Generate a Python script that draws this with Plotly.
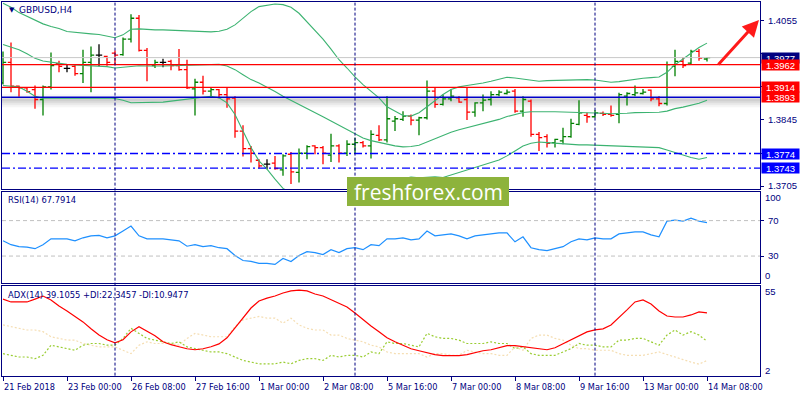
import plotly.graph_objects as go

# ---------------- data (GBPUSD H4, 21 Feb 16:00 .. 14 Mar 08:00) ----------------
opens = [1.39234, 1.39669, 1.39164, 1.39129, 1.39094, 1.38883, 1.39150, 1.39641, 1.39543, 1.39585,
         1.39431, 1.39669, 1.39824, 1.39796, 1.39866, 1.39831, 1.40161, 1.40603, 1.39922, 1.39599,
         1.39669, 1.39690, 1.39599, 1.39515, 1.39108, 1.39248, 1.39059, 1.39094, 1.38988, 1.38911,
         1.38216, 1.37844, 1.37598, 1.37514, 1.37535, 1.37395, 1.37725, 1.37339, 1.37746, 1.37901,
         1.37865, 1.37704, 1.37901, 1.37746, 1.37936, 1.37971, 1.37901, 1.38125, 1.38027, 1.38427,
         1.38462, 1.38532, 1.38448, 1.38497, 1.39059, 1.38778, 1.38897, 1.38918, 1.38883, 1.38616,
         1.38813, 1.38883, 1.38988, 1.39010, 1.39059, 1.38637, 1.38848, 1.38146, 1.38097, 1.37971,
         1.38006, 1.38097, 1.38357, 1.38546, 1.38518, 1.38588, 1.38567, 1.38567, 1.38953, 1.38988,
         1.39010, 1.39080, 1.38897, 1.38799, 1.39585, 1.39690, 1.39655, 1.39901, 1.39740]
highs = [1.39901, 1.40090, 1.39178, 1.39150, 1.39178, 1.39178, 1.39880, 1.39704, 1.39620, 1.39620,
         1.39936, 1.40006, 1.40055, 1.39810, 1.39922, 1.40196, 1.40687, 1.40673, 1.39971, 1.39725,
         1.39747, 1.39725, 1.39950, 1.39725, 1.39325, 1.39388, 1.39129, 1.39108, 1.39150, 1.38953,
         1.38336, 1.37901, 1.37619, 1.37619, 1.37690, 1.37725, 1.37774, 1.37844, 1.37915, 1.37915,
         1.37901, 1.38160, 1.37936, 1.38020, 1.38076, 1.38006, 1.38230, 1.38336, 1.38953, 1.38532,
         1.38637, 1.38567, 1.38518, 1.39283, 1.39150, 1.38988, 1.39094, 1.38953, 1.39150, 1.38827,
         1.38988, 1.39059, 1.39080, 1.39094, 1.39108, 1.38953, 1.38883, 1.38195, 1.38146, 1.38055,
         1.38286, 1.38476, 1.38869, 1.38602, 1.38659, 1.38630, 1.38757, 1.39024, 1.39038, 1.39178,
         1.39108, 1.39094, 1.38953, 1.39690, 1.39936, 1.39782, 1.39936, 1.39950, 1.39782]
lows = [1.39199, 1.39038, 1.38939, 1.39024, 1.38687, 1.38546, 1.39094, 1.39459, 1.39459, 1.39388,
        1.39234, 1.39038, 1.39585, 1.39599, 1.39613, 1.39810, 1.40090, 1.39901, 1.39269, 1.39550,
        1.39564, 1.39501, 1.39494, 1.39108, 1.38546, 1.38988, 1.38939, 1.38911, 1.38708, 1.38076,
        1.37676, 1.37549, 1.37423, 1.37409, 1.37395, 1.37269, 1.37094, 1.37129, 1.37619, 1.37725,
        1.37514, 1.37563, 1.37549, 1.37690, 1.37746, 1.37865, 1.37633, 1.38006, 1.37971, 1.38216,
        1.38427, 1.38336, 1.38125, 1.38462, 1.38708, 1.38757, 1.38848, 1.38813, 1.38448, 1.38518,
        1.38637, 1.38757, 1.38953, 1.38988, 1.38602, 1.38518, 1.38097, 1.37795, 1.37865, 1.37865,
        1.37936, 1.38076, 1.38336, 1.38392, 1.38497, 1.38532, 1.38518, 1.38378, 1.38757, 1.38953,
        1.38988, 1.38848, 1.38743, 1.38757, 1.39374, 1.39550, 1.39620, 1.39704, 1.39690]
closes = [1.39669, 1.39164, 1.39129, 1.39052, 1.38883, 1.39150, 1.39599, 1.39585, 1.39543, 1.39431,
          1.39669, 1.39824, 1.39824, 1.39669, 1.39824, 1.40161, 1.40603, 1.39922, 1.39620, 1.39669,
          1.39669, 1.39599, 1.39515, 1.39129, 1.39248, 1.39059, 1.39094, 1.38988, 1.38897, 1.38216,
          1.37844, 1.37746, 1.37479, 1.37514, 1.37423, 1.37690, 1.37353, 1.37746, 1.37887, 1.37865,
          1.37746, 1.37901, 1.37746, 1.37936, 1.37971, 1.37901, 1.38146, 1.38027, 1.38476, 1.38476,
          1.38532, 1.38448, 1.38497, 1.39059, 1.38778, 1.38897, 1.38953, 1.38827, 1.38616, 1.38813,
          1.38869, 1.38988, 1.39038, 1.39038, 1.38637, 1.38883, 1.38146, 1.38076, 1.37957, 1.38041,
          1.38097, 1.38378, 1.38602, 1.38518, 1.38602, 1.38567, 1.38546, 1.38988, 1.39010, 1.39024,
          1.39038, 1.38897, 1.38799, 1.39620, 1.39690, 1.39599, 1.39901, 1.39761, 1.39770]

bb_upper = [1.40919, 1.40835, 1.40722, 1.40638, 1.40554, 1.40484, 1.40427, 1.40385, 1.40322, 1.40301,
            1.40287, 1.40273, 1.40259, 1.40231, 1.40189, 1.40252, 1.40371, 1.40378, 1.40364, 1.40357,
            1.40357, 1.40350, 1.40343, 1.40336, 1.40329, 1.40315, 1.40315, 1.40329, 1.40371, 1.40462,
            1.40603, 1.40743, 1.40849, 1.40884, 1.40905, 1.40891, 1.40835, 1.40708, 1.40533, 1.40343,
            1.40161, 1.39950, 1.39725, 1.39550, 1.39360, 1.39199, 1.39059, 1.38918, 1.38729, 1.38637,
            1.38546, 1.38532, 1.38602, 1.38729, 1.38862, 1.38988, 1.39094, 1.39150, 1.39178, 1.39199,
            1.39234, 1.39269, 1.39318, 1.39353, 1.39339, 1.39318, 1.39290, 1.39269, 1.39283, 1.39290,
            1.39297, 1.39304, 1.39304, 1.39304, 1.39297, 1.39269, 1.39248, 1.39262, 1.39290, 1.39318,
            1.39332, 1.39346, 1.39360, 1.39459, 1.39620, 1.39740, 1.39866, 1.39985, 1.40076]
bb_mid = [1.40048, 1.39999, 1.39936, 1.39852, 1.39754, 1.39697, 1.39669, 1.39655, 1.39627, 1.39613,
          1.39606, 1.39599, 1.39592, 1.39578, 1.39550, 1.39564, 1.39592, 1.39599, 1.39592, 1.39585,
          1.39592, 1.39599, 1.39606, 1.39613, 1.39620, 1.39627, 1.39634, 1.39627, 1.39592, 1.39515,
          1.39409, 1.39304, 1.39234, 1.39150, 1.39052, 1.38953, 1.38869, 1.38778, 1.38686, 1.38602,
          1.38518, 1.38427, 1.38336, 1.38237, 1.38146, 1.38069, 1.38013, 1.37971, 1.37929, 1.37901,
          1.37880, 1.37887, 1.37915, 1.37985, 1.38055, 1.38111, 1.38188, 1.38244, 1.38286, 1.38321,
          1.38364, 1.38409, 1.38462, 1.38522, 1.38567, 1.38609, 1.38623, 1.38627, 1.38627, 1.38623,
          1.38620, 1.38616, 1.38613, 1.38613, 1.38606, 1.38592, 1.38581, 1.38581, 1.38592, 1.38606,
          1.38609, 1.38613, 1.38613, 1.38637, 1.38690, 1.38722, 1.38760, 1.38802, 1.38866]
bb_lower = [1.39178, 1.39164, 1.39150, 1.39059, 1.38953, 1.38911, 1.38911, 1.38918, 1.38925, 1.38925,
            1.38925, 1.38925, 1.38925, 1.38918, 1.38904, 1.38869, 1.38813, 1.38813, 1.38813, 1.38813,
            1.38827, 1.38848, 1.38869, 1.38883, 1.38911, 1.38932, 1.38953, 1.38918, 1.38813, 1.38567,
            1.38216, 1.37865, 1.37584, 1.37409, 1.37198, 1.37002, 1.36903, 1.36847, 1.36840, 1.36861,
            1.36875, 1.36903, 1.36945, 1.36924, 1.36931, 1.36938, 1.36966, 1.37023, 1.37128, 1.37163,
            1.37212, 1.37240, 1.37226, 1.37240, 1.37247, 1.37233, 1.37283, 1.37339, 1.37395, 1.37444,
            1.37493, 1.37549, 1.37605, 1.37690, 1.37795, 1.37901, 1.37957, 1.37985, 1.37971, 1.37957,
            1.37943, 1.37929, 1.37922, 1.37922, 1.37915, 1.37915, 1.37915, 1.37901, 1.37894, 1.37894,
            1.37887, 1.37880, 1.37865, 1.37816, 1.37760, 1.37704, 1.37655, 1.37619, 1.37655]

rsi = [47.2, 42.8, 40.6, 40.0, 38.3, 42.8, 49.4, 49.4, 49.4, 47.2,
       50.6, 52.8, 53.3, 50.6, 52.8, 58.3, 63.9, 52.8, 49.4, 49.4,
       49.4, 48.3, 47.2, 41.1, 42.8, 40.6, 41.7, 39.4, 38.3, 30.6,
       25.0, 23.9, 21.7, 21.7, 20.6, 27.2, 23.9, 30.6, 35.0, 33.9,
       31.7, 37.2, 33.9, 38.3, 39.4, 37.2, 42.8, 41.7, 49.4, 49.4,
       50.6, 48.3, 49.4, 58.3, 52.8, 53.9, 55.0, 52.8, 49.4, 52.8,
       53.9, 55.0, 56.1, 56.1, 46.1, 51.7, 39.4, 37.2, 36.1, 38.3,
       40.6, 46.1, 49.4, 48.3, 50.6, 49.4, 49.4, 55.0, 56.1, 57.2,
       57.2, 53.9, 51.7, 69.4, 70.6, 69.4, 72.8, 69.4, 67.7914]

adx = [47.3, 45.6, 45.6, 45.6, 47.3, 49.1, 46.8, 43.2, 40.3, 37.3,
       33.8, 29.7, 26.1, 23.2, 21.4, 23.2, 27.9, 30.9, 28.5, 25.6,
       22.0, 20.3, 19.1, 17.9, 17.3, 17.9, 19.1, 20.8, 24.4, 30.3,
       36.2, 42.0, 46.2, 47.9, 49.1, 50.9, 52.1, 52.6, 52.1, 50.3,
       49.1, 46.8, 45.0, 42.6, 39.1, 35.0, 31.4, 27.9, 24.4, 22.0,
       19.7, 17.9, 16.7, 15.5, 14.4, 13.8, 13.8, 13.8, 14.4, 15.5,
       16.7, 17.3, 18.5, 19.7, 19.7, 19.1, 18.5, 17.9, 17.3, 18.5,
       20.8, 23.2, 25.6, 27.9, 29.1, 29.7, 32.0, 36.2, 40.9, 45.6,
       46.8, 44.4, 40.3, 37.3, 36.7, 36.7, 37.9, 39.7, 39.1055]
plus_di = [15, 14, 13, 13, 12, 14, 20, 19, 18, 17,
           20, 21, 21, 20, 20, 24, 30, 27, 24, 23,
           22, 21, 22, 19, 18, 17, 16, 16, 15, 13,
           11, 10, 9, 9, 9, 10, 9, 11, 12, 12,
           11, 14, 13, 14, 14, 13, 16, 15, 22, 21,
           21, 20, 19, 27, 25, 24, 24, 23, 21, 21,
           21, 22, 21, 21, 18, 19, 15, 14, 14, 14,
           16, 18, 21, 20, 20, 19, 19, 23, 23, 24,
           24, 22, 20, 26, 29, 26, 28, 26, 22.3457]
minus_di = [32, 31, 30, 29, 29, 28, 25, 24, 23, 23,
            21, 20, 19, 19, 19, 17, 15, 20, 22, 21,
            21, 21, 20, 24, 27, 26, 25, 25, 25, 31,
            35, 36, 37, 36, 36, 33, 36, 32, 30, 29,
            29, 26, 26, 24, 23, 22, 20, 19, 16, 15,
            15, 15, 15, 13, 15, 15, 14, 14, 17, 16,
            15, 15, 14, 14, 19, 17, 24, 26, 26, 24,
            23, 20, 18, 18, 17, 17, 17, 15, 14, 14,
            14, 15, 16, 14.5, 12.8, 11.5, 10.0, 8.8, 10.9477]

tick_bars = [0, 8, 16, 24, 32, 40, 48, 56, 64, 72, 80, 88]
tick_labels = ["21 Feb 2018", "23 Feb 00:00", "26 Feb 08:00", "27 Feb 16:00", "1 Mar 00:00",
               "2 Mar 08:00", "5 Mar 16:00", "7 Mar 00:00", "8 Mar 08:00", "9 Mar 16:00",
               "13 Mar 00:00", "14 Mar 08:00"]
separator_bars = [14, 44, 74]
price_ticks = [1.4055, 1.3985, 1.3915, 1.3845, 1.3775, 1.3705]
price_tick_text = ["1.4055", "", "", "1.3845", "", "1.3705"]  # others hidden under level boxes
bid_price = 1.3977
red_levels = [1.3962, 1.3914]
blue_level = 1.3893
dashdot_levels = [1.3774, 1.3743]
rsi_levels = [70, 30]
price_range = [1.36988, 1.40947]
rsi_range = [-0.5, 102.8]
adx_range = [2, 55]

# ---------------- layout helpers ----------------
W, H = 800, 400
NAVY = "#000080"
def py(px):  # pixel row -> paper y (margins t=b=0)
    return 1 - px / H

bars = list(range(len(opens)))
up = [i for i in bars if closes[i] > opens[i]]
dn = [i for i in bars if closes[i] < opens[i]]
dj = [i for i in bars if closes[i] == opens[i]]

fig = go.Figure()

def ohlc(idx, color):
    fig.add_trace(go.Ohlc(
        x=idx, open=[opens[i] for i in idx], high=[highs[i] for i in idx],
        low=[lows[i] for i in idx], close=[closes[i] for i in idx],
        increasing=dict(line=dict(color=color, width=1.3)),
        decreasing=dict(line=dict(color=color, width=1.3)),
        tickwidth=0.4, xaxis="x", yaxis="y", hoverinfo="skip"))

BBC = "#3CB371"
for band in (bb_upper, bb_mid, bb_lower):
    fig.add_trace(go.Scatter(x=bars, y=band, mode="lines", line=dict(color=BBC, width=1.1),
                             xaxis="x", yaxis="y", hoverinfo="skip"))
ohlc(up, "#008000")
ohlc(dn, "#FF0000")
ohlc(dj, "#000000")

fig.add_trace(go.Scatter(x=bars, y=rsi, mode="lines", line=dict(color="#1E90FF", width=1.2),
                         xaxis="x2", yaxis="y2", hoverinfo="skip"))
fig.add_trace(go.Scatter(x=bars, y=minus_di, mode="lines",
                         line=dict(color="#F5DEB3", width=1.2, dash="2px,2px"),
                         xaxis="x3", yaxis="y3", hoverinfo="skip"))
fig.add_trace(go.Scatter(x=bars, y=plus_di, mode="lines",
                         line=dict(color="#9ACD32", width=1.2, dash="2px,2px"),
                         xaxis="x3", yaxis="y3", hoverinfo="skip"))
fig.add_trace(go.Scatter(x=bars, y=adx, mode="lines", line=dict(color="#FF0000", width=1.2),
                         xaxis="x3", yaxis="y3", hoverinfo="skip"))

xr = [(2 - 3) / 8, (760 - 3) / 8]
dom_main = [py(190), py(2)]
dom_rsi = [py(284.5), py(192.5)]
dom_adx = [py(377.5), py(287.5)]

axis_common = dict(showgrid=False, zeroline=False, showline=True, mirror=True,
                   linecolor=NAVY, linewidth=1, fixedrange=True)
PF = "Liberation Sans Narrow, Liberation Sans, Arial, sans-serif"
price_font = dict(family=PF, size=9.5, color=NAVY)

fig.update_layout(
    width=W, height=H, margin=dict(l=2, r=40, t=0, b=0),
    paper_bgcolor="white", plot_bgcolor="white", showlegend=False, hovermode=False,
    xaxis=dict(domain=[0, 1], anchor="y", range=xr, showticklabels=False, ticks="",
               rangeslider=dict(visible=False), **axis_common),
    xaxis2=dict(domain=[0, 1], anchor="y2", range=xr, showticklabels=False, ticks="",
                matches="x", **axis_common),
    xaxis3=dict(domain=[0, 1], anchor="y3", range=xr, showticklabels=False, ticks="outside",
                tickvals=tick_bars, ticklen=4, tickcolor=NAVY, matches="x", **axis_common),
    yaxis=dict(domain=dom_main, anchor="x", side="right", range=price_range,
               tickvals=price_ticks, ticktext=price_tick_text,
               ticks="outside", ticklen=3, tickcolor=NAVY, tickfont=price_font,
               ticklabelstandoff=2, **axis_common),
    yaxis2=dict(domain=dom_rsi, anchor="x2", side="right", range=rsi_range,
                tickvals=rsi_levels, ticktext=[str(v) for v in rsi_levels],
                ticks="outside", ticklen=3, tickcolor=NAVY, tickfont=price_font,
                ticklabelstandoff=2, **axis_common),
    yaxis3=dict(domain=dom_adx, anchor="x3", side="right", range=adx_range,
                tickvals=[], ticks="outside", ticklen=3, tickcolor=NAVY, tickfont=price_font,
                **axis_common),
)

shapes = []
# bid line
shapes.append(dict(type="line", xref="x domain", x0=0, x1=1, yref="y", y0=bid_price, y1=bid_price,
                   line=dict(color="#C8C8C8", width=1)))
# shadow under the blue level
for a, b, op in [(-1, -10, 0.05), (-1, -8, 0.06), (-1, -6, 0.07), (-1, -4, 0.08), (1, 3, 0.04)]:
    shapes.append(dict(type="rect", xref="x domain", x0=0, x1=1, yref="y", ysizemode="pixel",
                       yanchor=blue_level, y0=a, y1=b, line=dict(width=0),
                       fillcolor=f"rgba(60,60,60,{op})", layer="below"))
for lv in red_levels:
    shapes.append(dict(type="line", xref="x domain", x0=0, x1=1, yref="y", y0=lv, y1=lv,
                       line=dict(color="#FF0000", width=1.3)))
shapes.append(dict(type="line", xref="x domain", x0=0, x1=1, yref="y", y0=blue_level, y1=blue_level,
                   line=dict(color="#0000C8", width=1.5)))
for lv in dashdot_levels:
    shapes.append(dict(type="line", xref="x domain", x0=0, x1=1, yref="y", y0=lv, y1=lv,
                       line=dict(color="#0000FF", width=1.3, dash="8px,3px,2px,3px")))
for lv in rsi_levels:
    shapes.append(dict(type="line", xref="x2 domain", x0=0, x1=1, yref="y2", y0=lv, y1=lv,
                       line=dict(color="#C0C0C0", width=1, dash="4px,3px")))
for b in separator_bars:
    shapes.append(dict(type="line", xref="x", x0=b, x1=b, yref="paper", y0=dom_adx[0], y1=dom_main[1],
                       line=dict(color=NAVY, width=1, dash="3px,2px")))
# watermark box
shapes.append(dict(type="rect", xref="paper", yref="paper",
                   x0=(347 - 2) / 758, x1=(509 - 2) / 758, y0=py(207), y1=py(178),
                   fillcolor="#8DB33C", line=dict(width=0), layer="above"))
fig.update_layout(shapes=shapes)

ann = []
# x-axis date labels (left aligned at tick)
for b, t in zip(tick_bars, tick_labels):
    ann.append(dict(x=b, xref="x3", y=py(388.5), yref="paper", text=t, showarrow=False,
                    xanchor="left", yanchor="middle", xshift=-1,
                    font=dict(family="DejaVu Sans", size=8.2, color=NAVY)))
# price boxes on the right
boxes = [(bid_price, NAVY), (red_levels[0], "#FF0000"), (red_levels[1], "#FF0000"),
         (blue_level, "#FF0000"), (dashdot_levels[0], "#0000FF"), (dashdot_levels[1], "#0000FF")]
for v, c in boxes:
    ann.append(dict(x=1, xref="paper", y=v, yref="y", text=f"{v:.4f}", showarrow=False,
                    xanchor="left", yanchor="middle", xshift=1, bgcolor=c, borderpad=0,
                    width=37, height=10, align="center",
                    font=dict(family=PF, size=9.5, color="white")))
# RSI / ADX scale end labels
for txt, yy, yr in [("100", 96.5, "y2"), ("0", 7.5, "y2"), ("55", 51.5, "y3"), ("2", 5.0, "y3")]:
    ann.append(dict(x=1, xref="paper", y=yy, yref=yr, text=txt, showarrow=False,
                    xanchor="left", yanchor="middle", xshift=3, font=price_font))
# panel titles
ann.append(dict(x=(7 - 2) / 758, xref="paper", y=py(10.5), yref="paper", text="▼", showarrow=False,
                xanchor="left", yanchor="middle", font=dict(family="DejaVu Sans", size=7, color=NAVY)))
ann.append(dict(x=(17 - 2) / 758, xref="paper", y=py(10.5), yref="paper", text="GBPUSD,H4",
                showarrow=False, xanchor="left", yanchor="middle",
                font=dict(family="DejaVu Sans", size=9, color=NAVY)))
ann.append(dict(x=(6 - 2) / 758, xref="paper", y=py(201), yref="paper",
                text=f"RSI(14) {rsi[-1]:.4f}", showarrow=False,
                xanchor="left", yanchor="middle", font=dict(family="DejaVu Sans", size=8.4, color=NAVY)))
ann.append(dict(x=(6 - 2) / 758, xref="paper", y=py(296), yref="paper",
                text=f"ADX(14) {adx[-1]:.4f} +DI:{plus_di[-1]:.4f} -DI:{minus_di[-1]:.4f}",
                showarrow=False, xanchor="left", yanchor="middle",
                font=dict(family="DejaVu Sans", size=8.4, color=NAVY)))
# watermark text
ann.append(dict(x=(428 - 2) / 758, xref="paper", y=py(192.5), yref="paper", text="freshforex.com",
                showarrow=False, xanchor="center", yanchor="middle",
                font=dict(family="Open Sans", size=21, color="white")))
# red arrow
ann.append(dict(x=(759 - 2) / 758, xref="paper", y=py(20), yref="paper", text="", showarrow=True,
                ax=-42, ay=46, axref="pixel", ayref="pixel", arrowhead=2, arrowsize=1.1,
                arrowwidth=3, arrowcolor="#FF1A1A"))
fig.update_layout(annotations=ann)

fig.write_html("out.html", config={"displayModeBar": False, "staticPlot": True},
               post_script="document.body.style.margin='0';document.body.style.overflow='hidden';")
